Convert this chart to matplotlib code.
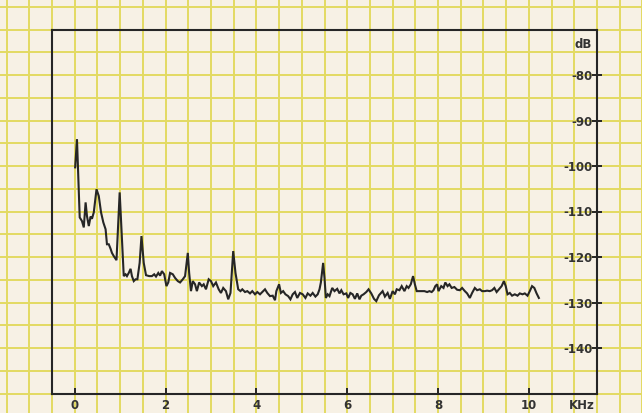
import numpy as np
import matplotlib
matplotlib.use("Agg")
import matplotlib.pyplot as plt

plt.rcParams['axes.unicode_minus'] = False
plt.rcParams['font.family'] = ['DejaVu Sans']

# noise spectrum, frequency in kHz and level in dB
freq = [0.01, 0.05, 0.11, 0.16, 0.20, 0.24, 0.27, 0.31, 0.35, 0.38,
        0.42, 0.48, 0.53, 0.58, 0.63, 0.68, 0.71, 0.75, 0.79, 0.82,
        0.86, 0.92, 0.99, 1.03, 1.08, 1.12, 1.15, 1.19, 1.23, 1.26,
        1.30, 1.34, 1.38, 1.43, 1.47, 1.52, 1.57, 1.64, 1.70, 1.75,
        1.79, 1.84, 1.88, 1.92, 1.97, 2.02, 2.06, 2.10, 2.16, 2.21,
        2.27, 2.32, 2.38, 2.43, 2.49, 2.52, 2.56, 2.60, 2.65, 2.69,
        2.74, 2.80, 2.84, 2.89, 2.95, 3.00, 3.05, 3.11, 3.17, 3.22,
        3.27, 3.33, 3.38, 3.43, 3.49, 3.54, 3.60, 3.65, 3.69, 3.75,
        3.80, 3.86, 3.91, 3.97, 4.02, 4.08, 4.13, 4.19, 4.24, 4.30,
        4.36, 4.41, 4.44, 4.50, 4.54, 4.59, 4.64, 4.70, 4.75, 4.80,
        4.85, 4.90, 4.96, 5.02, 5.08, 5.13, 5.19, 5.24, 5.30, 5.35,
        5.39, 5.42, 5.47, 5.50, 5.53, 5.57, 5.61, 5.67, 5.72, 5.78,
        5.83, 5.87, 5.92, 5.98, 6.02, 6.07, 6.12, 6.17, 6.22, 6.27,
        6.31, 6.36, 6.42, 6.47, 6.53, 6.59, 6.64, 6.70, 6.78, 6.83,
        6.89, 6.94, 7.00, 7.05, 7.09, 7.15, 7.20, 7.26, 7.31, 7.35,
        7.40, 7.45, 7.49, 7.53, 7.59, 7.65, 7.70, 7.76, 7.81, 7.86,
        7.90, 7.94, 7.98, 8.01, 8.07, 8.12, 8.16, 8.21, 8.25, 8.30,
        8.36, 8.42, 8.48, 8.53, 8.59, 8.64, 8.70, 8.75, 8.81, 8.86,
        8.92, 8.97, 9.03, 9.08, 9.14, 9.19, 9.24, 9.29, 9.34, 9.40,
        9.45, 9.49, 9.53, 9.58, 9.63, 9.69, 9.75, 9.80, 9.86, 9.91,
        9.97, 10.02, 10.07, 10.12, 10.17, 10.22]
level = [-100.3, -94.1, -111.3, -112.1, -113.5, -108.0, -111.0, -113.2, -111.1, -111.6,
         -110.2, -105.1, -106.6, -110.2, -112.4, -113.9, -117.2, -117.2, -118.2, -119.1,
         -119.8, -120.7, -105.8, -113.9, -124.2, -123.8, -124.2, -123.5, -122.6, -124.2,
         -125.3, -124.9, -124.9, -121.3, -115.4, -121.3, -124.0, -124.2, -124.2, -123.8,
         -124.3, -123.5, -124.1, -123.1, -123.8, -126.4, -125.6, -123.5, -123.8, -124.6,
         -125.3, -125.6, -124.9, -124.2, -119.1, -123.5, -127.5, -125.3, -126.0, -127.5,
         -125.6, -126.4, -126.0, -127.1, -124.9, -125.3, -126.4, -125.6, -127.1, -127.9,
         -126.8, -127.5, -129.3, -127.9, -118.7, -123.5, -127.1, -127.5, -127.1, -127.7,
         -127.5, -128.0, -127.5, -128.2, -127.7, -128.2, -127.7, -127.1, -127.9, -128.6,
         -128.5, -129.5, -127.5, -126.0, -127.9, -127.5, -128.2, -128.6, -129.3, -128.2,
         -127.7, -129.0, -127.9, -128.2, -129.0, -128.0, -128.5, -127.9, -128.7, -128.2,
         -127.1, -125.6, -121.3, -124.6, -129.0, -128.2, -128.6, -126.8, -127.5, -127.0,
         -128.0, -127.3, -128.2, -128.0, -129.0, -127.9, -128.2, -129.2, -128.0, -129.3,
         -128.5, -128.2, -127.7, -127.1, -128.0, -129.2, -129.7, -128.4, -127.5, -128.7,
         -127.9, -129.2, -127.5, -128.2, -127.1, -127.3, -126.4, -127.5, -126.4, -126.8,
         -126.0, -124.2, -126.0, -127.5, -127.5, -127.5, -127.5, -127.7, -127.5, -127.7,
         -127.3, -126.4, -126.0, -127.5, -126.4, -126.8, -125.6, -126.4, -126.0, -126.8,
         -126.6, -127.2, -127.3, -126.8, -127.5, -128.0, -129.0, -127.9, -126.8, -127.3,
         -127.1, -127.5, -127.5, -127.4, -127.5, -127.3, -126.8, -127.7, -127.1, -126.4,
         -125.3, -126.4, -128.2, -127.9, -128.5, -128.2, -128.5, -128.0, -128.2, -128.0,
         -128.5, -127.5, -126.4, -126.8, -128.0, -129.0]

x_ticks = [0, 2, 4, 6, 8, 10]
y_ticks = [-80, -90, -100, -110, -120, -130, -140]
x_range = (-0.5, 11.5)
y_range = (-150, -70)

paper = '#f7f1e5'
grid_col = '#e3da62'
ink = '#262626'
txt = '#333333'

W, H = 642, 413
fig = plt.figure(figsize=(W / 100, H / 100), dpi=100, facecolor=paper)

# plot frame in pixels
left, right, top, bottom = 52, 597, 29.5, 393.5
pos = [left / W, (H - bottom) / H, (right - left) / W, (bottom - top) / H]

# graph paper behind everything, same scale as the plot but covering the figure
kx = (x_range[1] - x_range[0]) / pos[2]
ky = (y_range[1] - y_range[0]) / pos[3]
bg = fig.add_axes([0, 0, 1, 1], zorder=0)
bg.set_xlim(x_range[0] - pos[0] * kx, x_range[0] - pos[0] * kx + kx)
bg.set_ylim(y_range[0] - pos[1] * ky, y_range[0] - pos[1] * ky + ky)
bg.set_facecolor(paper)
for v in np.arange(-2.0, 13.0, 0.5):
    bg.axvline(v, color=grid_col, lw=1.4)
for h in np.arange(-160, -55, 5):
    bg.axhline(h, color=grid_col, lw=1.4)
for s in bg.spines.values():
    s.set_visible(False)
bg.set_xticks([])
bg.set_yticks([])

ax = fig.add_axes(pos, zorder=1)
ax.set_facecolor('none')
ax.plot(freq, level, color=ink, lw=1.5, solid_joinstyle='miter')
ax.set_xlim(*x_range)
ax.set_ylim(*y_range)

for s in ax.spines.values():
    s.set_color(ink)
    s.set_linewidth(1.5)

ax.set_xticks(x_ticks, labels=[str(v) for v in x_ticks])
ax.set_yticks(y_ticks, labels=[str(v) for v in y_ticks])
ax.yaxis.tick_right()
ax.tick_params(axis='x', direction='in', length=4, width=1.4, color=ink,
               labelsize=8.5, labelcolor=txt, pad=4)
ax.tick_params(axis='y', direction='inout', length=7, width=1.4, color=ink,
               labelsize=8.5, labelcolor=txt, pad=-6.8)
for lab in ax.get_yticklabels():
    lab.set_horizontalalignment('right')
    lab.set_fontweight('bold')
for lab in ax.get_xticklabels():
    lab.set_fontweight('bold')

ax.text(11.39, -73.4, 'dB', ha='right', va='center', fontsize=8.5,
        fontweight='bold', color=txt)
ax.annotate('KHz', xy=(11.17, 0), xycoords=('data', 'axes fraction'),
            xytext=(0, -4), textcoords='offset points', ha='center', va='top',
            fontsize=8.5, fontweight='bold', color=txt)

fig.savefig('out.png', dpi=100, facecolor=paper)
